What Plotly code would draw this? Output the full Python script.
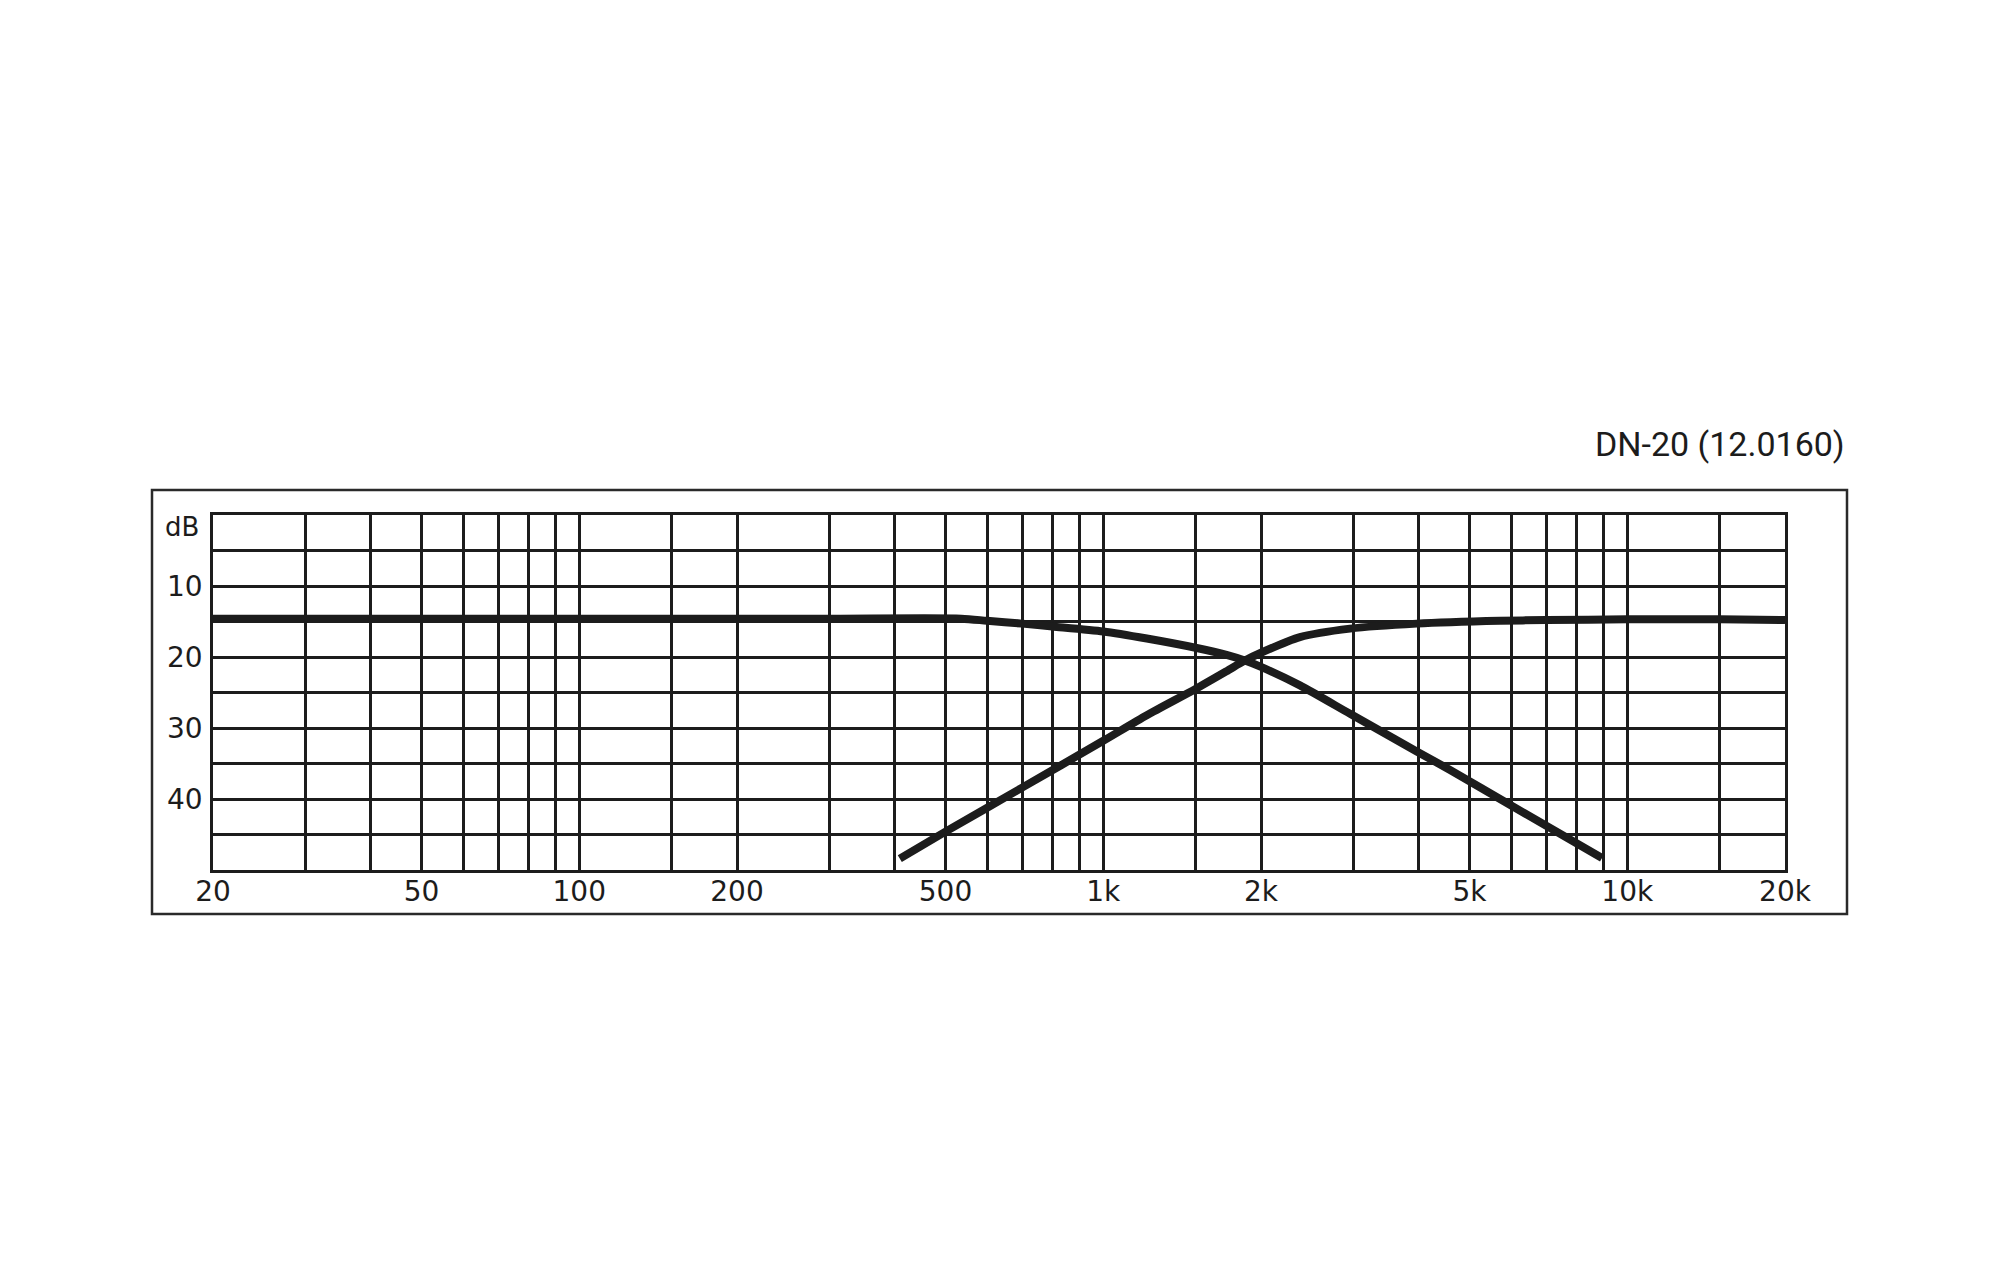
import plotly.graph_objects as go

# crossover curves (Hz / dB attenuation)
lp_freq = [20, 100, 300, 536, 600, 700, 800, 1000, 1211, 1500, 1719, 1863, 2000, 2373, 2958, 3965, 4590, 5904, 8950]
lp_db = [14.6, 14.6, 14.6, 14.6, 14.9, 15.3, 15.7, 16.4, 17.4, 18.7, 19.7, 20.5, 21.4, 24.0, 28.0, 33.3, 35.9, 40.6, 48.3]

hp_freq = [409, 500, 700, 1000, 1211, 1500, 1719, 1863, 2000, 2373, 2958, 3965, 5716, 7000, 10000, 15000, 20000]
hp_db = [48.4, 44.6, 38.4, 31.8, 28.2, 24.5, 22.0, 20.5, 19.4, 17.2, 16.0, 15.3, 14.9, 14.8, 14.7, 14.7, 14.8]

x_ticks = [20, 50, 100, 200, 500, 1000, 2000, 5000, 10000, 20000]
x_labels = ["20", "50", "100", "200", "500", "1k", "2k", "5k", "10k", "20k"]
x_grid = [20, 30, 40, 50, 60, 70, 80, 90,
          100, 150, 200, 300, 400, 500, 600, 700, 800, 900,
          1000, 1500, 2000, 3000, 4000, 5000, 6000, 7000, 8000, 9000,
          10000, 15000, 20000]

y_ticks = [10, 20, 30, 40]
y_labels = ["10", "20", "30", "40"]
y_grid = [0, 5, 10, 15, 20, 25, 30, 35, 40, 45, 50]

title = "DN-20 (12.0160)"

ink = "#1c1c1c"
fig = go.Figure()
for fx, fy in [(lp_freq, lp_db), (hp_freq, hp_db)]:
    fig.add_trace(go.Scatter(x=fx, y=fy, mode="lines",
                             line=dict(color=ink, width=8, shape="spline", smoothing=0.7),
                             showlegend=False, hoverinfo="skip"))

# plot area in the picture: 213..1785 x, 515..870 y (page body adds 8px)
L, R, T, B = 213, 1785, 515, 870
W, H = 2000, 1280
pw, ph = R - L, B - T
off = 8

def px(x):
    return (x - L) / pw

def py(y):
    return (B - y) / ph

fig.update_layout(
    width=W, height=H,
    margin=dict(l=L - off, r=W - R + off, t=T - off, b=H - B + off),
    paper_bgcolor="white", plot_bgcolor="white",
    font=dict(family="DejaVu Sans", size=28, color=ink),
    xaxis=dict(type="log", range=[1.30103, 4.30103],
               tickvals=x_ticks, ticktext=x_labels, ticks="",
               showgrid=True, gridcolor=ink, gridwidth=2.5,
               minor=dict(tickvals=x_grid, showgrid=True, gridcolor=ink, gridwidth=2.5, ticks=""),
               showline=True, mirror=True, linecolor=ink, linewidth=2.5,
               ticklabelstandoff=-5, zeroline=False),
    yaxis=dict(range=[50, 0], tickvals=y_ticks, ticktext=y_labels, ticks="",
               showgrid=True, gridcolor=ink, gridwidth=2.5,
               minor=dict(tickvals=y_grid, showgrid=True, gridcolor=ink, gridwidth=2.5, ticks=""),
               showline=True, mirror=True, linecolor=ink, linewidth=2.5,
               ticklabelstandoff=2, zeroline=False),
)

# outer frame
fig.add_shape(type="rect", xref="paper", yref="paper",
              x0=px(152), x1=px(1847), y0=py(914), y1=py(490),
              line=dict(color="#2a2a2a", width=2.5), layer="below")

fig.add_annotation(text="dB", xref="paper", yref="paper", x=px(201), y=py(527),
                   xanchor="right", yanchor="middle", showarrow=False,
                   font=dict(family="DejaVu Sans", size=26, color=ink))

fig.add_annotation(text=title, xref="paper", yref="paper", x=px(1847), y=py(444),
                   xanchor="right", yanchor="middle", showarrow=False,
                   font=dict(family="Roboto", size=34, color=ink))

fig.write_html("out.html")
